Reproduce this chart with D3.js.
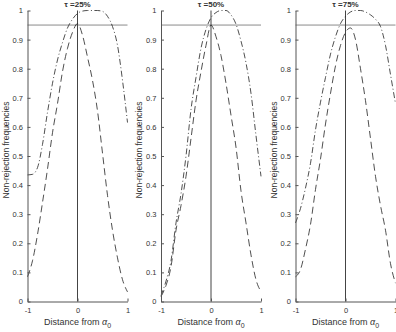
<!DOCTYPE html>
<html>
<head>
<meta charset="utf-8">
<script src="https://d3js.org/d3.v7.min.js"></script>
<style>
  body { margin: 0; background: #fff; }
  svg text { font-family: "Liberation Sans", Arial, sans-serif; fill: #333; }
</style>
</head>
<body>
<svg width="396" height="332"></svg>
<script>
// distance grid shared by all panels
var distance = [-1, -0.9, -0.8, -0.7, -0.6, -0.5, -0.4, -0.3, -0.2, -0.1, 0, 0.1, 0.2, 0.3, 0.4, 0.5, 0.6, 0.7, 0.8, 0.9, 1];

var taus = ["25%", "50%", "75%"];

// dashed curves
var dashed25 = [0.085, 0.14, 0.23, 0.34, 0.455, 0.58, 0.68, 0.79, 0.87, 0.925, 0.955, 0.915, 0.84, 0.76, 0.655, 0.51, 0.365, 0.245, 0.15, 0.075, 0.033];
var dashed50 = [0.017, 0.055, 0.12, 0.245, 0.33, 0.43, 0.56, 0.69, 0.79, 0.88, 0.95, 0.91, 0.845, 0.75, 0.64, 0.53, 0.38, 0.27, 0.16, 0.075, 0.034];
var dashed75 = [0.085, 0.11, 0.18, 0.265, 0.385, 0.49, 0.61, 0.715, 0.81, 0.88, 0.925, 0.94, 0.9, 0.8, 0.69, 0.56, 0.43, 0.33, 0.245, 0.13, 0.063];

// dash-dot curves
var dashdot25 = [0.435, 0.437, 0.46, 0.54, 0.65, 0.75, 0.83, 0.89, 0.94, 0.97, 0.99, 0.998, 1.0, 1.0, 1.0, 0.997, 0.98, 0.945, 0.88, 0.76, 0.615];
var dashdot50 = [0.02, 0.07, 0.14, 0.27, 0.37, 0.50, 0.66, 0.77, 0.87, 0.935, 0.975, 0.993, 1.0, 1.0, 0.985, 0.953, 0.895, 0.82, 0.715, 0.57, 0.43];
var dashdot75 = [0.27, 0.32, 0.39, 0.475, 0.59, 0.685, 0.77, 0.85, 0.91, 0.955, 0.98, 0.995, 1.0, 1.0, 0.995, 0.985, 0.97, 0.945, 0.88, 0.78, 0.68];

var dashedSeries = [dashed25, dashed50, dashed75];
var dashdotSeries = [dashdot25, dashdot50, dashdot75];

var nominal = 0.95;
var yTicks = [0, 0.1, 0.2, 0.3, 0.4, 0.5, 0.6, 0.7, 0.8, 0.9, 1];
var xTicks = [-1, 0, 1];

var svg = d3.select("svg");
var panelLeft = [27.5, 161, 295.5],
    panelWidth = 100,
    plotTop = 10.5,
    plotBottom = 301.5;

var y = d3.scaleLinear().domain([0, 1]).range([plotBottom, plotTop]);

taus.forEach(function (tau, i) {
    var x = d3.scaleLinear().domain([-1, 1]).range([panelLeft[i], panelLeft[i] + panelWidth]);
    var g = svg.append("g");

    // reference lines
    g.append("line")
        .attr("x1", x(-1)).attr("x2", x(1))
        .attr("y1", y(nominal)).attr("y2", y(nominal))
        .attr("stroke", "#8a8a8a").attr("stroke-width", 1);
    g.append("line")
        .attr("x1", x(0)).attr("x2", x(0))
        .attr("y1", y(0)).attr("y2", y(1))
        .attr("stroke", "#444").attr("stroke-width", 1);

    var line = d3.line()
        .x(function (d, j) { return x(distance[j]); })
        .y(function (d) { return y(d); })
        .curve(d3.curveMonotoneX);

    g.append("path")
        .datum(dashedSeries[i])
        .attr("fill", "none")
        .attr("stroke", "#222")
        .attr("stroke-width", 0.8)
        .attr("stroke-dasharray", "7,4")
        .attr("d", line);

    g.append("path")
        .datum(dashdotSeries[i])
        .attr("fill", "none")
        .attr("stroke", "#222")
        .attr("stroke-width", 0.8)
        .attr("stroke-dasharray", "6,2.5,1,2.5")
        .attr("d", line);

    // axes: left and bottom only, ticks pointing inward
    var ya = g.append("g")
        .attr("transform", "translate(" + x(-1) + ",0)")
        .call(d3.axisLeft(y).tickValues(yTicks).tickSizeInner(-3).tickSizeOuter(0).tickPadding(4.5)
            .tickFormat(function (d) { return d === 0 || d === 1 ? String(d) : d3.format(".1f")(d); }));
    var xa = g.append("g")
        .attr("transform", "translate(0," + y(0) + ")")
        .call(d3.axisBottom(x).tickValues(xTicks).tickSizeInner(-3).tickSizeOuter(0).tickPadding(6)
            .tickFormat(function (d) { return String(d); }));
    [ya, xa].forEach(function (a) {
        a.select(".domain").attr("stroke", "#555");
        a.selectAll(".tick line").attr("stroke", "#555");
        a.selectAll(".tick text").style("font-size", "7.5px").attr("fill", "#333");
    });

    g.append("text")
        .attr("x", x(0)).attr("y", 6.5)
        .attr("text-anchor", "middle")
        .style("font-size", "8px").style("font-weight", "bold")
        .attr("fill", "#111")
        .text("τ =" + tau);

    g.append("text")
        .attr("transform", "translate(" + (x(-1) - 19) + "," + (y(0.5) - 6) + ") rotate(-90)")
        .attr("text-anchor", "middle")
        .style("font-size", "8.5px")
        .text("Non-rejection frequencies");

    var xl = g.append("text")
        .attr("x", x(0)).attr("y", 325)
        .attr("text-anchor", "middle")
        .style("font-size", "9px");
    xl.append("tspan").text("Distance from ");
    xl.append("tspan").style("font-style", "italic").text("α");
    xl.append("tspan").attr("dy", 3).style("font-size", "7px").text("0");
});
</script>
</body>
</html>
